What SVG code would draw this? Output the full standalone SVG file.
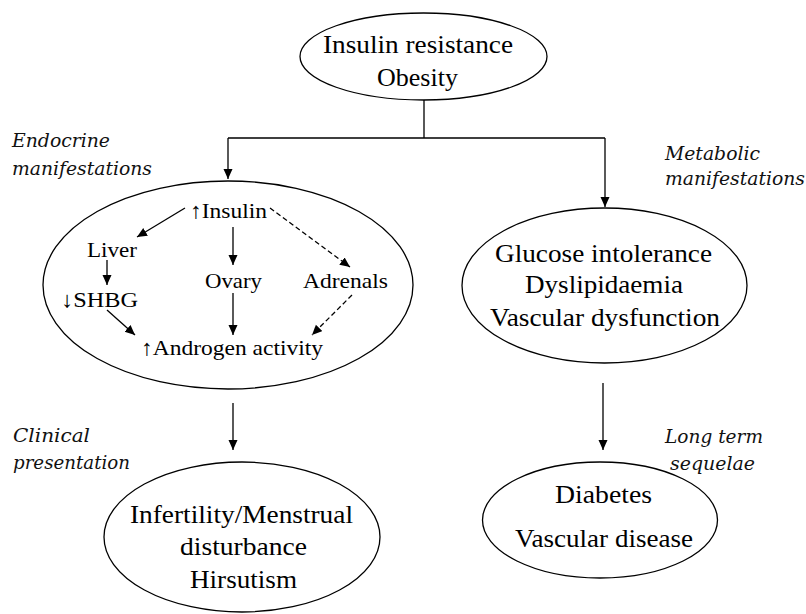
<svg xmlns="http://www.w3.org/2000/svg" width="806" height="614" viewBox="0 0 806 614">
<defs>
<marker id="ah" markerUnits="userSpaceOnUse" markerWidth="11" markerHeight="10" refX="10" refY="4.5" orient="auto">
<path d="M0,0 L10,4.5 L0,9 z" fill="#000"/>
</marker>
<style>
.node{fill:#fff;stroke:#000;stroke-width:1.3}
.t{font-family:'Liberation Serif','Times New Roman',Tinos,'Noto Serif','DejaVu Serif',Times,serif;fill:#000}
.big{font-size:25px}
.mid{font-size:22px}
.lab{font-family:'DejaVu Serif','Liberation Serif','Noto Serif',serif;font-style:italic;font-size:18px;fill:#111}
.c{fill:none;stroke:#000;stroke-width:1.3}
.a{marker-end:url(#ah)}
.d{stroke-dasharray:5,3}
</style>
</defs>
<rect width="806" height="614" fill="#fff"/>

<g id="connectors">
<path class="c" d="M424,100 V138 M228,138 H605"/>
<path class="c a" d="M228,138 V179"/>
<path class="c a" d="M605,138 V207"/>
<path class="c a" d="M233,403 V450"/>
<path class="c a" d="M603,383 V450"/>
<path class="c a" d="M185,208 L137,237"/>
<path class="c a" d="M233,227 V265"/>
<path class="c a" d="M233,293 V335"/>
<path class="c a d" d="M270,208 L350,267"/>
<path class="c a d" d="M352,295 L312,335"/>
<path class="c a" d="M107,260 V285"/>
<path class="c a" d="M107,310 L135,335"/>
</g>

<g id="labels">
<text class="lab" x="12" y="147" textLength="98" lengthAdjust="spacingAndGlyphs">Endocrine</text>
<text class="lab" x="12" y="175" textLength="140" lengthAdjust="spacingAndGlyphs">manifestations</text>
<text class="lab" x="665" y="160" textLength="95" lengthAdjust="spacingAndGlyphs">Metabolic</text>
<text class="lab" x="665" y="185" textLength="140" lengthAdjust="spacingAndGlyphs">manifestations</text>
<text class="lab" x="13" y="442" textLength="77" lengthAdjust="spacingAndGlyphs">Clinical</text>
<text class="lab" x="13" y="469" textLength="117" lengthAdjust="spacingAndGlyphs">presentation</text>
<text class="lab" x="665" y="443" textLength="98" lengthAdjust="spacingAndGlyphs">Long term</text>
<text class="lab" x="670" y="470" textLength="85" lengthAdjust="spacingAndGlyphs">sequelae</text>
</g>

<g id="top">
<ellipse class="node" cx="423.5" cy="56.5" rx="123.5" ry="43.5"/>
<text class="t big" x="323" y="53" textLength="190" lengthAdjust="spacingAndGlyphs">Insulin resistance</text>
<text class="t big" x="377" y="86" textLength="81" lengthAdjust="spacingAndGlyphs">Obesity</text>
</g>

<g id="endocrine">
<ellipse class="node" cx="228" cy="285" rx="185" ry="104" style="fill:none"/>
<text class="t mid" x="190" y="218" textLength="77" lengthAdjust="spacingAndGlyphs">↑Insulin</text>
<text class="t mid" x="87" y="257" textLength="50" lengthAdjust="spacingAndGlyphs">Liver</text>
<text class="t mid" x="61" y="307" textLength="77" lengthAdjust="spacingAndGlyphs">↓SHBG</text>
<text class="t mid" x="205" y="288" textLength="57" lengthAdjust="spacingAndGlyphs">Ovary</text>
<text class="t mid" x="303" y="288" textLength="85" lengthAdjust="spacingAndGlyphs">Adrenals</text>
<text class="t mid" x="141" y="355" textLength="182" lengthAdjust="spacingAndGlyphs">↑Androgen activity</text>
</g>

<g id="metabolic">
<ellipse class="node" cx="604.5" cy="285.5" rx="142.5" ry="77.5"/>
<text class="t big" x="495" y="262" textLength="217" lengthAdjust="spacingAndGlyphs">Glucose intolerance</text>
<text class="t big" x="525" y="293" textLength="158" lengthAdjust="spacingAndGlyphs">Dyslipidaemia</text>
<text class="t big" x="490" y="326" textLength="230" lengthAdjust="spacingAndGlyphs">Vascular dysfunction</text>
</g>

<g id="clinical">
<ellipse class="node" cx="242" cy="537" rx="138" ry="75"/>
<text class="t big" x="130" y="523" textLength="223" lengthAdjust="spacingAndGlyphs">Infertility/Menstrual</text>
<text class="t big" x="180" y="555" textLength="127" lengthAdjust="spacingAndGlyphs">disturbance</text>
<text class="t big" x="190" y="588" textLength="107" lengthAdjust="spacingAndGlyphs">Hirsutism</text>
</g>

<g id="sequelae">
<ellipse class="node" cx="600" cy="520" rx="117.5" ry="58"/>
<text class="t big" x="555" y="503" textLength="97" lengthAdjust="spacingAndGlyphs">Diabetes</text>
<text class="t big" x="515" y="547" textLength="178" lengthAdjust="spacingAndGlyphs">Vascular disease</text>
</g>
</svg>
